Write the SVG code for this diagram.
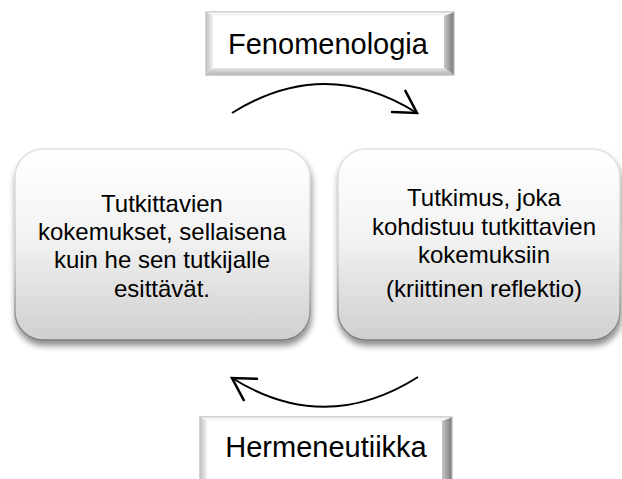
<svg xmlns="http://www.w3.org/2000/svg" width="622" height="479" viewBox="0 0 622 479">
<defs>
<linearGradient id="boxFill" x1="0" y1="0" x2="0" y2="1">
<stop offset="0" stop-color="#ffffff"/>
<stop offset="0.45" stop-color="#f3f3f3"/>
<stop offset="1" stop-color="#cfcfcf"/>
</linearGradient>
<linearGradient id="boxStroke" x1="0" y1="0" x2="0" y2="1">
<stop offset="0" stop-color="#e2e2e2"/>
<stop offset="0.6" stop-color="#c8c8c8"/>
<stop offset="1" stop-color="#7a7a7a"/>
</linearGradient>
<linearGradient id="bevL" x1="0" y1="0" x2="1" y2="0">
<stop offset="0" stop-color="#c4c4c4"/>
<stop offset="1" stop-color="#f2f2f2"/>
</linearGradient>
<linearGradient id="bevR" x1="0" y1="0" x2="1" y2="0">
<stop offset="0" stop-color="#c8c8c8"/>
<stop offset="1" stop-color="#7c7c7c"/>
</linearGradient>
<linearGradient id="bevB" x1="0" y1="0" x2="0" y2="1">
<stop offset="0" stop-color="#e6e6e6"/>
<stop offset="1" stop-color="#b4b4b4"/>
</linearGradient>
<filter id="shadow" x="-10%" y="-10%" width="120%" height="125%">
<feGaussianBlur in="SourceAlpha" stdDeviation="3"/>
<feOffset dx="1" dy="5" result="b"/>
<feComponentTransfer><feFuncA type="linear" slope="0.45"/></feComponentTransfer>
<feMerge><feMergeNode/><feMergeNode in="SourceGraphic"/></feMerge>
</filter>
<marker id="arrow" markerUnits="userSpaceOnUse" markerWidth="30" markerHeight="30" viewBox="-20 -12 22 24" refX="0" refY="0" orient="auto">
<path d="M -17.3 -10 L 0 0 L -17.3 10" fill="none" stroke="#000" stroke-width="2" stroke-linecap="round" stroke-linejoin="miter"/>
</marker>
</defs>
<style>
.t{font-family:"Liberation Sans",Arial,sans-serif;fill:#000;text-anchor:middle}
.body{font-size:24px}
.head{font-size:29px}
.box{fill:url(#boxFill);stroke:url(#boxStroke);stroke-width:1.5}
.conn{fill:none;stroke:#000;stroke-width:2}
</style>

<g id="fenomenologia">
<rect x="206" y="12" width="248" height="63" fill="#e9e9e9" stroke="#a8a8a8" stroke-width="1"/>
<polygon points="206.5,12.5 453.5,12.5 444,16 213,16" fill="#f6f6f6"/>
<polygon points="206.5,12.5 213,16 213,68 206.5,74.5" fill="url(#bevL)"/>
<polygon points="453.5,12.5 453.5,74.5 444,68 444,16" fill="url(#bevR)"/>
<polygon points="206.5,74.5 453.5,74.5 444,68 213,68" fill="url(#bevB)"/>
<rect x="213" y="16" width="231" height="52" fill="#ffffff"/>
<text class="t head" x="328" y="54">Fenomenologia</text>
</g>

<g id="tutkittavien">
<rect class="box" x="15" y="149" width="295" height="191" rx="28" ry="28" filter="url(#shadow)"/>
<text class="t body" x="162" y="212">Tutkittavien</text>
<text class="t body" x="162" y="240">kokemukset, sellaisena</text>
<text class="t body" x="162" y="268">kuin he sen tutkijalle</text>
<text class="t body" x="162" y="297">esittävät.</text>
</g>

<g id="tutkimus">
<rect class="box" x="338" y="149" width="282" height="191" rx="28" ry="28" filter="url(#shadow)"/>
<text class="t body" x="484" y="206">Tutkimus, joka</text>
<text class="t body" x="484" y="235">kohdistuu tutkittavien</text>
<text class="t body" x="484" y="263">kokemuksiin</text>
<text class="t body" x="484" y="297">(kriittinen reflektio)</text>
</g>

<g id="hermeneutiikka">
<rect x="200" y="417" width="252" height="62" fill="#e9e9e9" stroke="#a8a8a8" stroke-width="1"/>
<polygon points="200.5,417.5 451.5,417.5 442,421 207,421" fill="#f6f6f6"/>
<polygon points="200.5,417.5 207,421 207,479 200.5,479" fill="url(#bevL)"/>
<polygon points="451.5,417.5 451.5,479 442,479 442,421" fill="url(#bevR)"/>
<rect x="207" y="421" width="235" height="58" fill="#ffffff"/>
<text class="t head" x="326" y="457">Hermeneutiikka</text>
</g>

<g id="connectors">
<path class="conn" d="M 232 113 Q 325 55 417 113" marker-end="url(#arrow)"/>
<path class="conn" d="M 418 377 Q 325 436 232 378" marker-end="url(#arrow)"/>
</g>
</svg>
